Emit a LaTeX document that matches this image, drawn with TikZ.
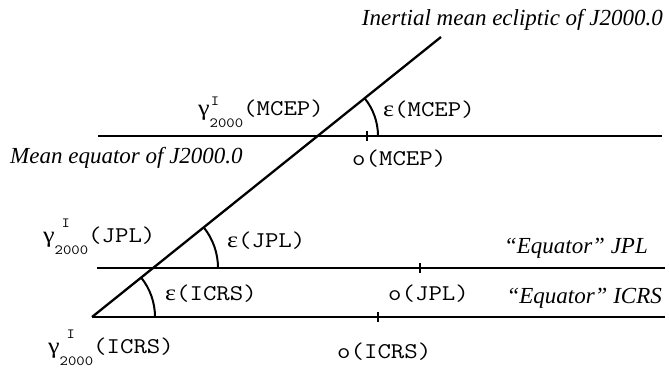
\documentclass[tikz,border=0pt]{standalone}
\usepackage{fontspec}
\usepackage{graphicx}
\setmainfont{Liberation Serif}
\usetikzlibrary{calc}
\newcommand\wide[1]{\scalebox{1.16}[1]{#1}}
\newcommand\eps{{\rmfamily ε}}
\newcommand\gammalab[3]{\wide{{\rmfamily γ}\rlap{\raisebox{#2}{\fontsize{14}{14}\selectfont\ttfamily\hspace*{#3}I}}\raisebox{-0.5em}{\fontsize{14}{14}\selectfont\ttfamily 2000}\ttfamily(#1)}}
\tikzset{
  mono/.style={font=\fontsize{22.5}{22.5}\selectfont\ttfamily, inner sep=0pt, anchor=base west},
  glab/.style={font=\fontsize{22.5}{22.5}\selectfont, inner sep=0pt, anchor=base west},
  ital/.style={font=\fontsize{23}{23}\selectfont\itshape, inner sep=0pt},
  eqline/.style={line width=2.3pt},
  tickmark/.style={line width=2pt},
  anglearc/.style={line width=2pt},
}
\begin{document}
\begin{tikzpicture}[x=1pt,y=1pt]
\useasboundingbox (0,0) rectangle (669,374);
% lines
\coordinate (O) at (92,57);
\coordinate (E) at (441,337);
\coordinate (icrsR) at (665,57);
\coordinate (jplL) at (97,106);
\coordinate (jplR) at (665,106);
\coordinate (mcepL) at (98,238);
\coordinate (mcepR) at (662,238);
\coordinate (jplX) at (153,106);
\coordinate (mcepX) at (318,238);
\draw[eqline] (O) -- (icrsR);
\draw[eqline] (jplL) -- (jplR);
\draw[eqline] (mcepL) -- (mcepR);
\draw[eqline] (O) -- (E);
% ticks
\coordinate (tI) at (378,57);
\coordinate (tJ) at (420,106);
\coordinate (tM) at (367,238);
\draw[tickmark] ($(tI)+(0,5)$) -- ($(tI)+(0,-5)$);
\draw[tickmark] ($(tJ)+(0,5)$) -- ($(tJ)+(0,-5)$);
\draw[tickmark] ($(tM)+(0,5)$) -- ($(tM)+(0,-5)$);
% arcs
\draw[anglearc] ($(O)+(63,0)$) arc[start angle=0,end angle=38.74,radius=63];
\draw[anglearc] ($(jplX)+(65,0)$) arc[start angle=0,end angle=38.74,radius=65];
\draw[anglearc] ($(mcepX)+(60,0)$) arc[start angle=0,end angle=38.74,radius=60];
% labels
\node[ital, anchor=base east] (ecl) at (663,348) {Inertial mean ecliptic of J2000.0};
\node[ital, anchor=base west] (meq) at (10,210) {Mean equator of J2000.0};
\node[ital, anchor=base east] (eqj) at (648,120) {“Equator” JPL};
\node[ital, anchor=base east] (eqi) at (662,70) {“Equator” ICRS};
\node[glab] (gM) at (198,258) {\gammalab{MCEP}{0.45em}{1pt}};
\node[glab] (gJ) at (43,131) {\gammalab{JPL}{0.68em}{6pt}};
\node[glab] (gI) at (48,20) {\gammalab{ICRS}{0.68em}{6pt}};
\node[mono] (eM) at (383,257) {\wide{\eps(MCEP)}};
\node[mono] (eJ) at (227,126) {\wide{\eps(JPL)}};
\node[mono] (eI) at (165,73) {\wide{\eps(ICRS)}};
\node[mono] (oM) at (352,208) {\wide{o(MCEP)}};
\node[mono] (oJ) at (388,73) {\wide{o(JPL)}};
\node[mono] (oI) at (337,15) {\wide{o(ICRS)}};
\end{tikzpicture}
\end{document}
